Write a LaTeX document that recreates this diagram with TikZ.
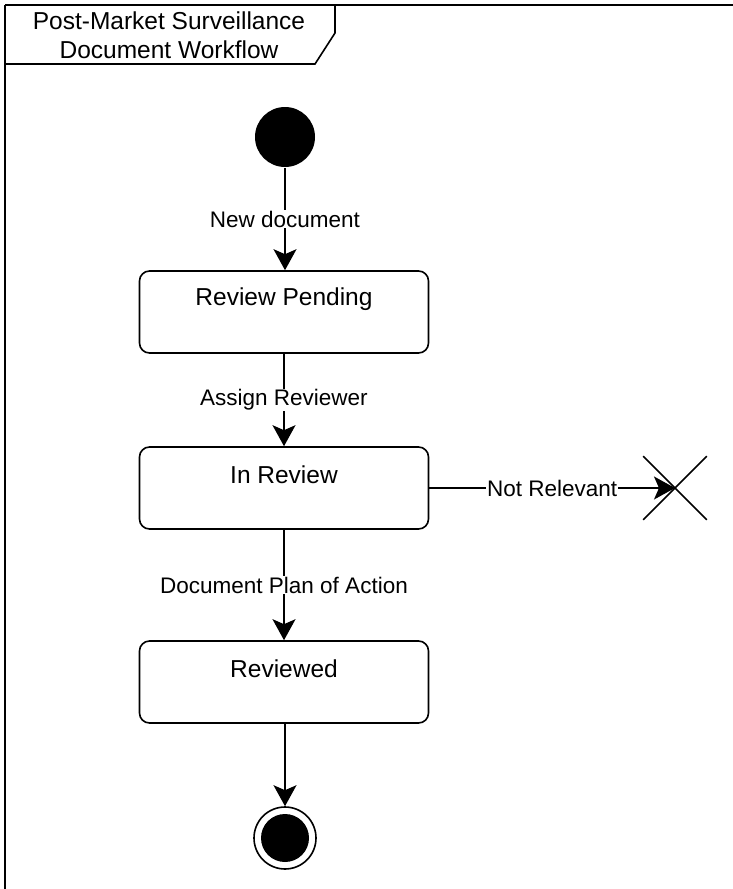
\documentclass[tikz,border=0pt]{standalone}
\usepackage{fontspec}
\setmainfont{Liberation Sans}
\usetikzlibrary{arrows.meta}
\begin{document}
\begin{tikzpicture}[x=1pt,y=-1pt,
  line width=1.6pt,
  statebox/.style={draw, rounded corners=10pt, minimum width=289pt, minimum height=82pt, inner sep=0pt},
  nodetext/.style={font=\fontsize{24.5}{29}\selectfont},
  edgelabel/.style={fill=white, inner sep=1pt, font=\fontsize{22.5}{27}\selectfont},
  arr/.style={-{Stealth[length=21pt,width=23pt,inset=5pt]}}]
\clip (0,0) rectangle (733,889);
\fill[white] (0,0) rectangle (733,889);
% frame
\draw (5,5) -- (745,5);
\draw (5,5) -- (5,900);
\draw (5,5) -- (335,5) -- (335,33) -- (315,64) -- (5,64);
\node[nodetext, align=center] (title) at (169,35) {Post-Market Surveillance\\Document Workflow};
% initial
\node[circle, fill=black, minimum size=60pt, inner sep=0pt] (init) at (285,137) {};
% states
\node[statebox, label={[nodetext, anchor=center, yshift=-29pt]north:Review Pending}] (pend) at (284,312) {};
\node[statebox, label={[nodetext, anchor=center, yshift=-29pt]north:In Review}] (inrev) at (284,488) {};
\node[statebox, label={[nodetext, anchor=center, yshift=-29pt]north:Reviewed}] (done) at (284,682) {};
% terminate
\node[minimum size=62pt, inner sep=0pt] (term) at (675,488) {};
\draw (term.north west) -- (term.south east);
\draw (term.north east) -- (term.south west);
% final
\node[circle, draw, minimum size=62pt, inner sep=0pt] (final) at (285,838) {};
\node[circle, fill=black, minimum size=48pt, inner sep=0pt] (finalin) at (285,838) {};
% edges
\draw[arr] (init) -- node[edgelabel] {New document} (pend.north -| init);
\draw[arr] (pend) -- node[edgelabel] {Assign Reviewer} (inrev);
\draw[arr] (inrev.east) -- node[edgelabel] {Not Relevant} (term.center);
\draw[arr] (inrev) -- node[edgelabel] {Document Plan of Action} (done);
\draw[arr] (done.south -| final) -- (final);
\end{tikzpicture}
\end{document}
